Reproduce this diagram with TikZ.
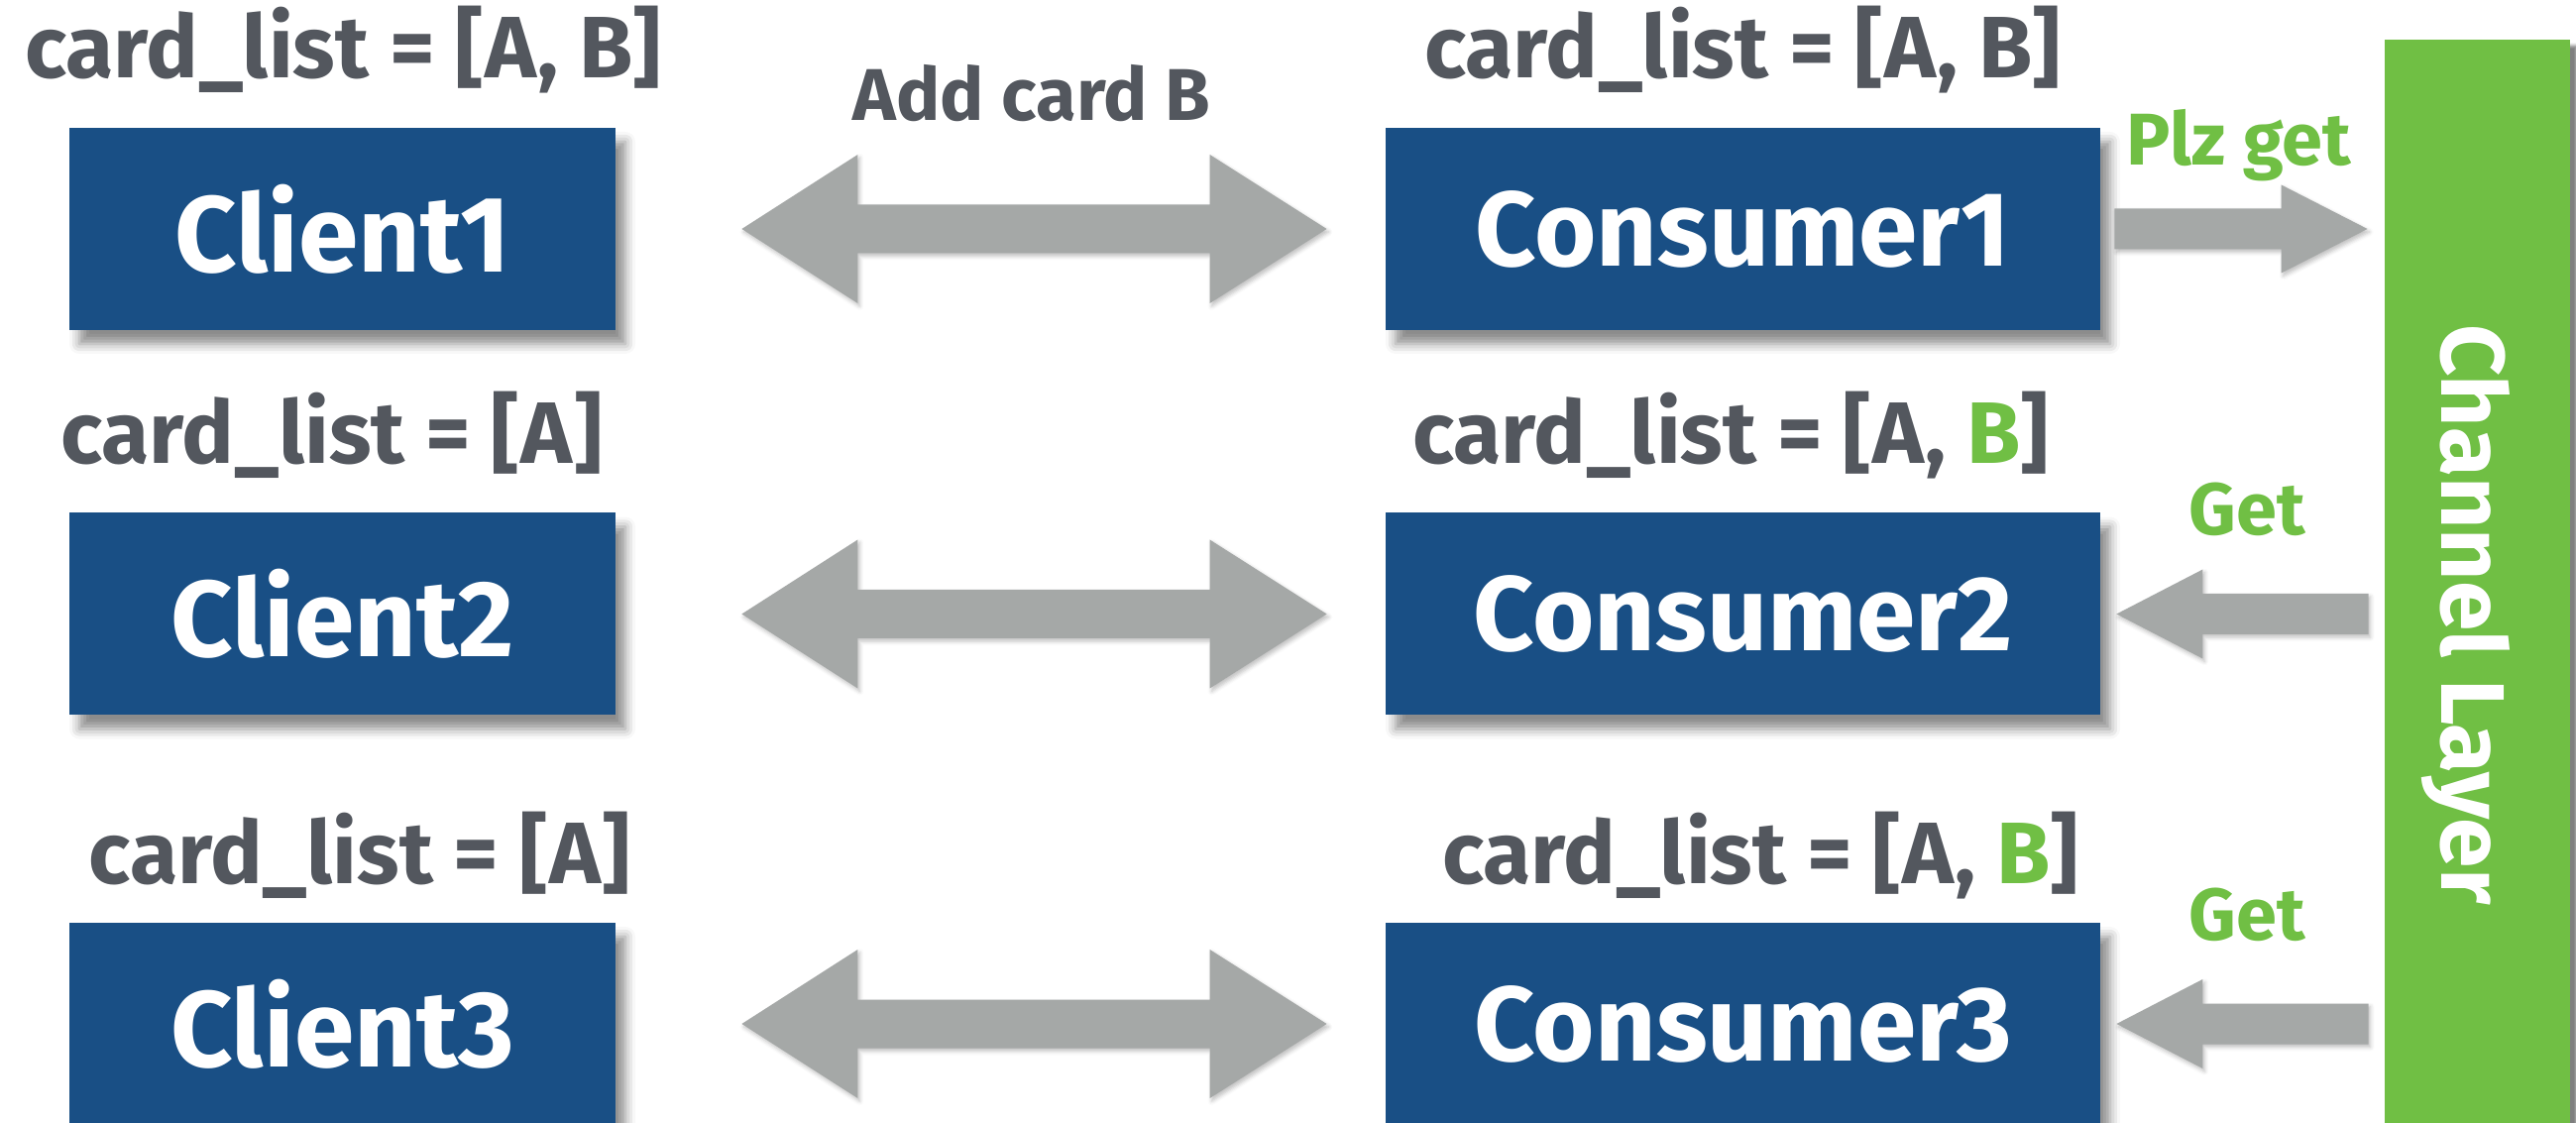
\documentclass[tikz,border=0pt]{standalone}
\usepackage{fontspec}
\setmainfont{Fira Sans}
\usetikzlibrary{calc,shadows.blur}

\definecolor{boxblue}{RGB}{25,79,133}
\definecolor{labelgray}{RGB}{83,87,94}
\definecolor{chgreen}{RGB}{112,191,68}
\definecolor{arrowgray}{RGB}{165,168,167}

\tikzset{
  procbox/.style={fill=boxblue, text=white, inner sep=0pt,
    minimum height=102pt,
    blur shadow={shadow xshift=5pt, shadow yshift=-7pt, shadow blur radius=5pt, shadow opacity=45}},
  clientbox/.style={procbox, minimum width=275.5pt, font=\fontsize{54.5}{54.5}\selectfont\bfseries},
  consbox/.style={procbox, minimum width=360.5pt, font=\fontsize{53.5}{53.5}\selectfont\bfseries},
  listlabel/.style={anchor=base, inner sep=0pt, text=labelgray,
    font=\fontsize{44}{44}\selectfont\bfseries},
  msglabel/.style={anchor=base, inner sep=0pt, font=\fontsize{37}{37}\selectfont\bfseries},
  layerbar/.style={fill=chgreen, inner sep=0pt, minimum width=93.5pt, minimum height=550pt,
    blur shadow={shadow xshift=3.5pt, shadow yshift=-3pt, shadow blur radius=1.5pt, shadow opacity=50}},
  arrowbody/.style={fill=arrowgray,
    blur shadow={shadow xshift=1pt, shadow yshift=-1.5pt, shadow blur radius=2pt, shadow opacity=25}},
}

% horizontal block arrow: #1 tail, #2 tip, #3 signed head length, #4 head half width, #5 shaft half width
\newcommand\blockarrow[5]{%
  \fill[arrowbody] ($(#1)+(0,-#5)$) -- ($(#2)+(#3,-#5)$) -- ($(#2)+(#3,-#4)$) -- (#2)
    -- ($(#2)+(#3,#4)$) -- ($(#2)+(#3,#5)$) -- ($(#1)+(0,#5)$) -- cycle;}
% horizontal double-headed block arrow between two tips
\newcommand\dblarrow[2]{%
  \fill[arrowbody] (#1) -- ($(#1)+(117,-75)$) -- ($(#1)+(117,-24.5)$) -- ($(#2)+(-118,-24.5)$)
    -- ($(#2)+(-118,-75)$) -- (#2) -- ($(#2)+(-118,75)$) -- ($(#2)+(-118,24.5)$)
    -- ($(#1)+(117,24.5)$) -- ($(#1)+(117,75)$) -- cycle;}

\begin{document}
\begin{tikzpicture}[x=0.5pt, y=-0.5pt]
\useasboundingbox (0,0) rectangle (2599,1133);

% channel layer bar
\node[layerbar] (layer) at (2499.5,590) {};
\node[anchor=base, inner sep=0pt, rotate=-90, text=white,
  font=\fontsize{45.5}{45.5}\selectfont\bfseries] (layertext) at (2463,620) {Channel Layer};

% clients and consumers
\node[clientbox] (client1) at (345.5,231) {Client1};
\node[clientbox] (client2) at (345.5,619.5) {Client2};
\node[clientbox] (client3) at (345.5,1033) {Client3};
\node[consbox] (cons1) at (1758.5,231) {Consumer1};
\node[consbox] (cons2) at (1758.5,619.5) {Consumer2};
\node[consbox] (cons3) at (1758.5,1033) {Consumer3};

% state labels
\node[listlabel] (l1) at (346,79) {card\_list = [A, B]};
\node[listlabel] (l2) at (334.5,468) {card\_list = [A]};
\node[listlabel] (l3) at (363,892) {card\_list = [A]};
\node[listlabel] (r1) at (1758,79) {card\_list = [A, B]};
\node[listlabel] (r2) at (1746,468) {card\_list = [A, \textcolor{chgreen}{B}]};
\node[listlabel] (r3) at (1776,892) {card\_list = [A, \textcolor{chgreen}{B}]};

% message labels
\node[msglabel, text=labelgray] (addb) at (1041,122) {Add card B};
\node[msglabel, text=chgreen] (plz) at (2258.5,167) {Plz get};
\node[msglabel, text=chgreen] (get2) at (2267.5,540) {Get};
\node[msglabel, text=chgreen] (get3) at (2267.5,948) {Get};

% client <-> consumer arrows
\foreach \i in {1,2,3}{
  \coordinate (ds\i) at ($(client\i.east)+(127,0)$);
  \coordinate (de\i) at ($(cons\i.west)+(-59,0)$);
  \dblarrow{ds\i}{de\i}
}

% consumer -> channel layer, channel layer -> consumers
\coordinate (p1s) at ($(cons1.east)+(14,0)$);
\coordinate (p1e) at ($(layer.west |- cons1.east)+(-17,0)$);
\blockarrow{p1s}{p1e}{-87}{44.5}{20.5}
\foreach \i in {2,3}{
  \coordinate (gs\i) at ($(layer.west |- cons\i.east)+(-16,0)$);
  \coordinate (ge\i) at ($(cons\i.east)+(16,0)$);
  \blockarrow{gs\i}{ge\i}{87}{45}{20.5}
}
\end{tikzpicture}
\end{document}
